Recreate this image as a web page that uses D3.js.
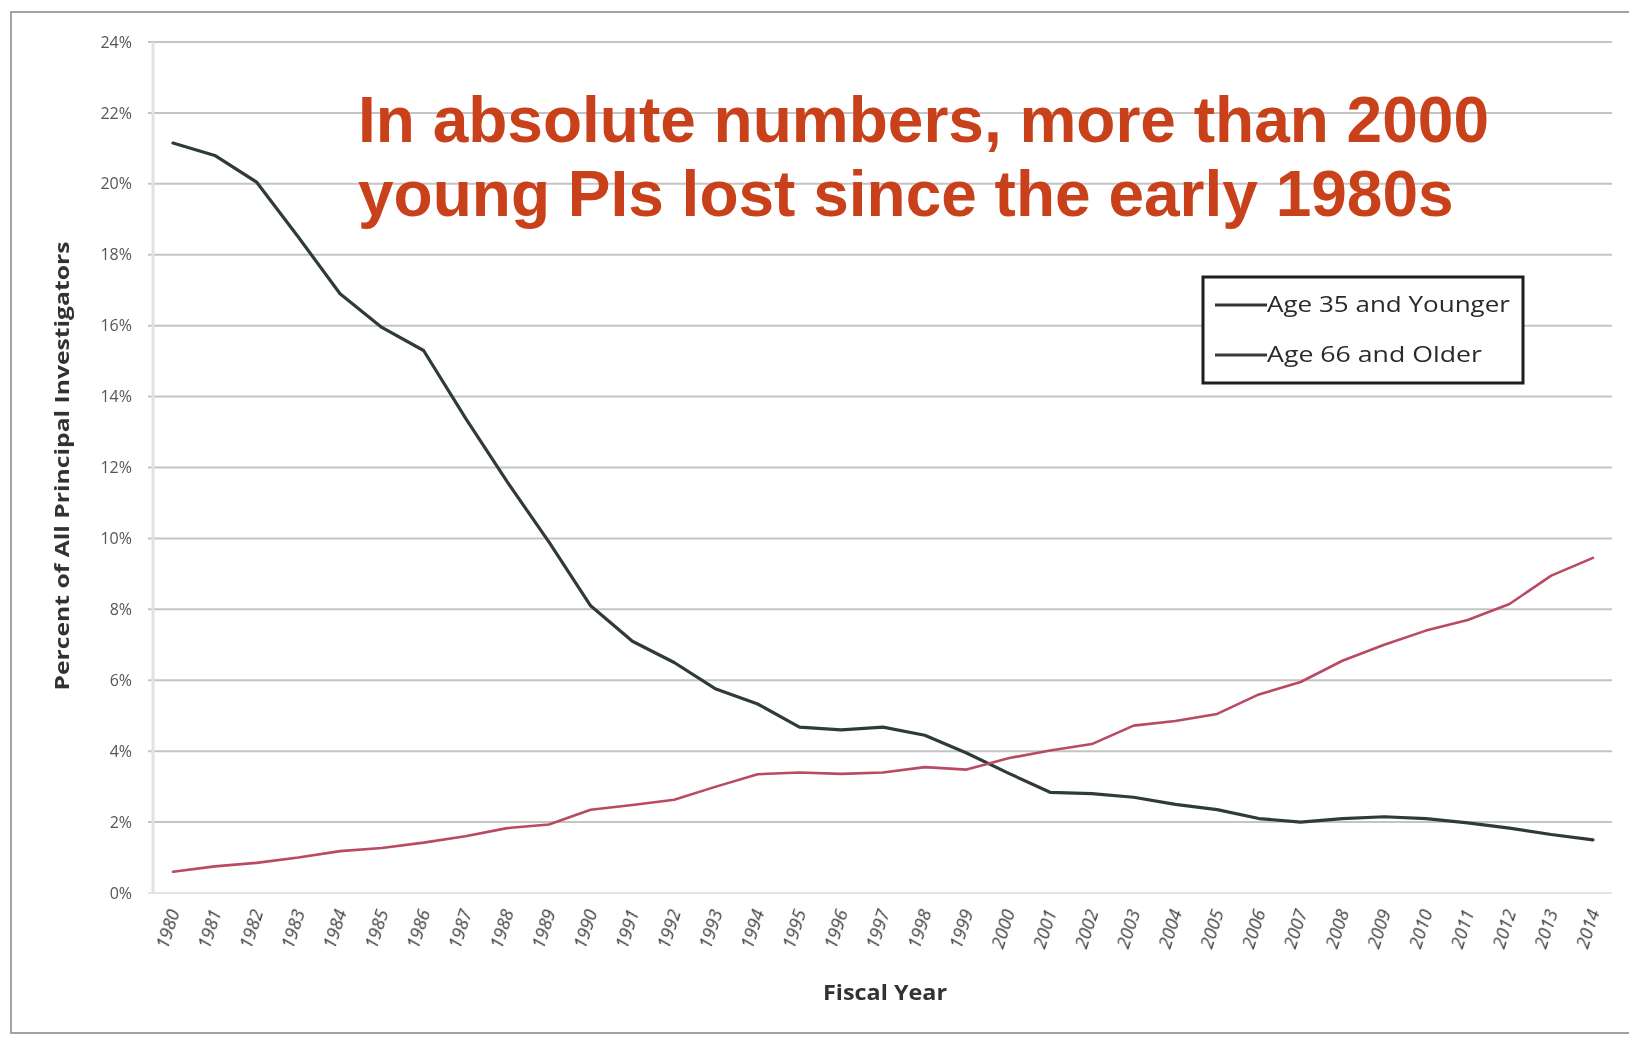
<!DOCTYPE html>
<html>
<head>
<meta charset="utf-8">
<script src="https://cdn.jsdelivr.net/npm/d3@7"></script>
<style>
  html, body { margin: 0; padding: 0; background: #fff; }
  svg { display: block; }
</style>
</head>
<body>
<svg id="chart" width="1629" height="1037"></svg>
<script>
// Fiscal years on the category axis
const years = d3.range(1980, 2015);

// Share of all principal investigators (%) by age group
const youngShare = [
  21.15, 20.8, 20.05, 18.5, 16.9, 15.95, 15.3, 13.4, 11.6, 9.9,
  8.1, 7.1, 6.5, 5.75, 5.33, 4.68, 4.6, 4.68, 4.45, 3.95,
  3.38, 2.84, 2.8, 2.7, 2.5, 2.35, 2.1, 2.0, 2.1, 2.15,
  2.1, 1.98, 1.83, 1.65, 1.5
];
const olderShare = [
  0.6, 0.75, 0.85, 1.0, 1.18, 1.27, 1.42, 1.6, 1.83, 1.93,
  2.35, 2.48, 2.63, 3.0, 3.35, 3.4, 3.36, 3.4, 3.55, 3.48,
  3.8, 4.02, 4.2, 4.72, 4.85, 5.05, 5.6, 5.95, 6.55, 7.0,
  7.4, 7.7, 8.15, 8.95, 9.45
];

const seriesNames = ["Age 35 and Younger", "Age 66 and Older"];
const seriesColors = ["#2f3b3a", "#b84a62"];
const legendColors = ["#333333", "#3a3a3a"];

const yTicks = d3.range(0, 25, 2);
const titleLines = [
  "In absolute numbers, more than 2000",
  "young PIs lost since the early 1980s"
];
const yAxisTitle = "Percent of All Principal Investigators";
const xAxisTitle = "Fiscal Year";

const svg = d3.select("#chart");

const defs = svg.append("defs");
defs.append("filter").attr("id", "soft")
  .append("feGaussianBlur").attr("stdDeviation", 0.55);

// Outer frame
svg.append("rect")
  .attr("x", 11).attr("y", 12)
  .attr("width", 1640).attr("height", 1021)
  .attr("fill", "none")
  .attr("stroke", "#a3a3a3")
  .attr("stroke-width", 2);

const x = d3.scalePoint().domain(years).range([173, 1593]);
const y = d3.scaleLinear().domain([0, 24]).range([893, 42]);

const plotLeft = 148, plotRight = 1612;

// Horizontal gridlines
svg.append("g")
  .selectAll("line")
  .data(yTicks)
  .join("line")
  .attr("x1", plotLeft).attr("x2", plotRight)
  .attr("y1", d => y(d)).attr("y2", d => y(d))
  .attr("stroke", d => d === 0 ? "#e4e4e4" : "#c4c4c4")
  .attr("stroke-width", 2);

// Faint vertical axis line
svg.append("line")
  .attr("x1", 153).attr("x2", 153)
  .attr("y1", y(24)).attr("y2", y(0))
  .attr("stroke", "#e2e2e2")
  .attr("stroke-width", 3);

// Y axis tick labels
const yAxis = d3.axisLeft(y)
  .tickValues(yTicks)
  .tickFormat(d => d + "%")
  .tickSize(0)
  .tickPadding(0);
const yg = svg.append("g")
  .attr("transform", "translate(132,0)")
  .call(yAxis);
yg.select(".domain").remove();
yg.selectAll("text")
  .attr("font-family", "'Open Sans', sans-serif")
  .attr("font-size", 16)
  .attr("fill", "#555")
  .attr("filter", "url(#soft)");

// X axis tick labels, rotated
const xAxis = d3.axisBottom(x).tickSize(0).tickPadding(0);
const xg = svg.append("g").call(xAxis);
xg.select(".domain").remove();
xg.selectAll(".tick")
  .attr("transform", d => `translate(${x(d) + 7},912)`);
xg.selectAll("text")
  .attr("x", 0).attr("y", 0).attr("dy", 0)
  .attr("text-anchor", "end")
  .attr("transform", "rotate(-72)")
  .attr("font-family", "'Open Sans', sans-serif")
  .attr("font-size", 18)
  .attr("font-style", "italic")
  .attr("fill", "#3c3c3c")
  .attr("filter", "url(#soft)");

// Axis titles
svg.append("text")
  .attr("transform", "translate(69,466) rotate(-90)")
  .attr("text-anchor", "middle")
  .attr("font-family", "'Open Sans', sans-serif")
  .attr("font-weight", "bold")
  .attr("font-size", 19)
  .attr("fill", "#333")
  .attr("textLength", 449)
  .attr("lengthAdjust", "spacingAndGlyphs")
  .attr("filter", "url(#soft)")
  .text(yAxisTitle);

svg.append("text")
  .attr("x", 885).attr("y", 1000)
  .attr("text-anchor", "middle")
  .attr("font-family", "'Open Sans', sans-serif")
  .attr("font-weight", "bold")
  .attr("font-size", 21)
  .attr("fill", "#333")
  .attr("textLength", 124)
  .attr("lengthAdjust", "spacingAndGlyphs")
  .attr("filter", "url(#soft)")
  .text(xAxisTitle);

// Series lines
const line = d3.line()
  .x((d, i) => x(years[i]))
  .y(d => y(d))
  .curve(d3.curveLinear);

[youngShare, olderShare].forEach((vals, k) => {
  svg.append("path")
    .datum(vals)
    .attr("d", line)
    .attr("fill", "none")
    .attr("stroke", seriesColors[k])
    .attr("stroke-width", k === 0 ? 3.2 : 2.6)
    .attr("stroke-linejoin", "round")
    .attr("stroke-linecap", "round");
});

// Legend
const lg = svg.append("g");
lg.append("rect")
  .attr("x", 1203).attr("y", 277)
  .attr("width", 320).attr("height", 106)
  .attr("fill", "#fff")
  .attr("stroke", "#1e1e1e")
  .attr("stroke-width", 3);
const legendLengths = [243, 215];
seriesNames.forEach((name, i) => {
  const cy = 305 + i * 50;
  lg.append("line")
    .attr("x1", 1215).attr("x2", 1267)
    .attr("y1", cy).attr("y2", cy)
    .attr("stroke", legendColors[i])
    .attr("stroke-width", 3);
  lg.append("text")
    .attr("x", 1267).attr("y", cy + 7)
    .attr("font-family", "'Open Sans', sans-serif")
    .attr("font-size", 21)
    .attr("fill", "#2a2a2a")
    .attr("textLength", legendLengths[i])
    .attr("lengthAdjust", "spacingAndGlyphs")
    .attr("filter", "url(#soft)")
    .text(name);
});

// Headline annotation
svg.append("g")
  .selectAll("text")
  .data(titleLines)
  .join("text")
  .attr("x", 358)
  .attr("y", (d, i) => 142 + i * 74)
  .attr("font-family", "'Liberation Sans', Arial, sans-serif")
  .attr("font-weight", "bold")
  .attr("font-size", 64)
  .attr("fill", "#c8411b")
  .text(d => d);
</script>
</body>
</html>
